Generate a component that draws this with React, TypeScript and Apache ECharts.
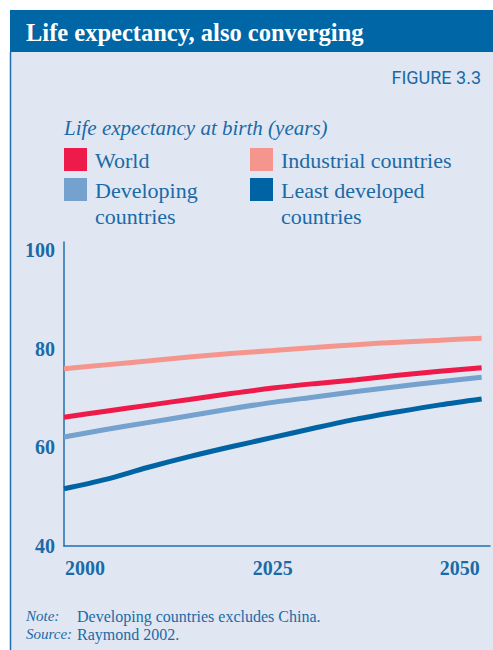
import React, { useEffect, useRef } from "react";
import * as echarts from "echarts";

const years = [2000, 2005, 2010, 2015, 2020, 2025, 2030, 2035, 2040, 2045, 2050];
const world = [66.1, 67.3, 68.5, 69.7, 70.9, 72.0, 72.9, 73.7, 74.6, 75.4, 76.1];
const industrial = [75.9, 76.7, 77.5, 78.3, 79.0, 79.6, 80.2, 80.8, 81.3, 81.7, 82.1];
const developing = [62.1, 63.6, 65.0, 66.4, 67.8, 69.1, 70.2, 71.3, 72.3, 73.3, 74.2];
const leastDeveloped = [51.6, 53.5, 55.9, 58.1, 60.1, 62.0, 63.9, 65.7, 67.2, 68.6, 69.8];
const xTicks = [2000, 2025, 2050];
const yTicks = [40, 60, 80, 100];

const TITLE = "Life expectancy, also converging";
const FIGURE = "FIGURE 3.3";
const SUBTITLE = "Life expectancy at birth (years)";

const SERIF = "'Liberation Serif', 'DejaVu Serif', serif";
const BLUE_TEXT = "#1a6aa8";
const BAR = "#0066a6";
const BG = "#e0e7f2";

const seriesDefs = [
  { name: "Industrial countries", data: industrial, color: "#f4968e" },
  { name: "World", data: world, color: "#ee1a4a" },
  { name: "Developing countries", data: developing, color: "#74a1cd" },
  { name: "Least developed countries", data: leastDeveloped, color: "#0064a4" },
];

const legendLeft = [
  { lines: ["World"], color: "#ee1a4a" },
  { lines: ["Developing", "countries"], color: "#74a1cd" },
];
const legendRight = [
  { lines: ["Industrial countries"], color: "#f4968e" },
  { lines: ["Least developed", "countries"], color: "#0064a4" },
];

function legendElements(items: { lines: string[]; color: string }[], x: number) {
  const out: any[] = [];
  items.forEach((it, i) => {
    const top = 148 + i * 30;
    out.push({
      type: "rect",
      shape: { x, y: top, width: 23, height: 23 },
      style: { fill: it.color },
    });
    it.lines.forEach((ln, j) => {
      out.push({
        type: "text",
        x: x + 31,
        y: top + 12 + j * 26,
        style: {
          text: ln,
          font: `22px ${SERIF}`,
          fill: BLUE_TEXT,
          textAlign: "left",
          textVerticalAlign: "middle",
          align: "left",
          verticalAlign: "middle",
        },
      });
    });
  });
  return out;
}

function txt(text: string, x: number, y: number, font: string, fill: string, align = "left") {
  return {
    type: "text",
    x,
    y,
    style: {
      text,
      font,
      fill,
      textAlign: align,
      textVerticalAlign: "middle",
      align,
      verticalAlign: "middle",
    },
  };
}

export default function App() {
  const ref = useRef<HTMLDivElement>(null);
  useEffect(() => {
    if (!ref.current) return;
    const chart = echarts.init(ref.current, undefined, { renderer: "svg" });
    const axisLabelStyle = {
      fontFamily: SERIF,
      fontWeight: "bold" as const,
      fontSize: 20,
      color: BLUE_TEXT,
    };
    chart.setOption({
      animation: false,
      backgroundColor: "#ffffff",
      grid: { left: 64, right: 3, top: 242, bottom: 104, containLabel: false },
      xAxis: {
        type: "value",
        min: 2000,
        max: 2051,
        interval: 25,
        axisLine: { show: true, lineStyle: { color: "#1f6faf", width: 1.5 } },
        axisTick: { show: false },
        splitLine: { show: false },
        axisLabel: {
          showMaxLabel: false,
          margin: 12,
          formatter: (v: number) => {
            if (!xTicks.includes(v)) return "";
            if (v === xTicks[0]) return `{l|${v}}`;
            if (v === xTicks[xTicks.length - 1]) return `{r|${v}}`;
            return `{c|${v}}`;
          },
          rich: {
            l: { ...axisLabelStyle, padding: [0, 0, 0, 42] },
            c: { ...axisLabelStyle },
            r: { ...axisLabelStyle, padding: [0, 44, 0, 0] },
          },
        },
      },
      yAxis: {
        type: "value",
        min: 40,
        max: 101.6,
        interval: 20,
        axisLine: { show: true, lineStyle: { color: "#1f6faf", width: 1.5 } },
        axisTick: { show: false },
        splitLine: { show: false },
        axisLabel: {
          showMaxLabel: false,
          margin: 9,
          ...axisLabelStyle,
          formatter: (v: number) => (yTicks.includes(v) ? String(v) : ""),
        },
      },
      series: seriesDefs.map((s) => ({
        name: s.name,
        type: "line",
        data: years.map((y, i) => [y, s.data[i]]),
        showSymbol: false,
        smooth: 0.3,
        lineStyle: { color: s.color, width: 5 },
        itemStyle: { color: s.color },
      })),
      graphic: [
        {
          type: "rect",
          z: -10,
          shape: { x: 10, y: 10, width: 483, height: 42 },
          style: { fill: BAR },
        },
        {
          type: "rect",
          z: -10,
          shape: { x: 10, y: 52, width: 483, height: 598 },
          style: { fill: BG },
        },
        {
          type: "line",
          z: -9,
          shape: { x1: 10.5, y1: 52, x2: 10.5, y2: 650 },
          style: { stroke: "#1f6faf", lineWidth: 1.5 },
        },
        txt(TITLE, 26, 32, `bold 24.5px ${SERIF}`, "#ffffff"),
        txt(FIGURE, 481, 77, `18px 'Liberation Sans Narrow', 'Roboto', sans-serif`, BLUE_TEXT, "right"),
        txt(SUBTITLE, 64, 128, `italic 21px ${SERIF}`, BLUE_TEXT),
        ...legendElements(legendLeft, 64),
        ...legendElements(legendRight, 250),
        txt("Note:", 26, 616, `italic 15px ${SERIF}`, BLUE_TEXT),
        txt("Developing countries excludes China.", 77, 616, `16px ${SERIF}`, BLUE_TEXT),
        txt("Source:", 26, 634, `italic 15px ${SERIF}`, BLUE_TEXT),
        txt("Raymond 2002.", 77, 634, `16px ${SERIF}`, BLUE_TEXT),
      ],
    });
    return () => chart.dispose();
  }, []);
  return (
    <div
      ref={ref}
      style={{ position: "absolute", left: 0, top: 0, width: 493, height: 650 }}
    />
  );
}
